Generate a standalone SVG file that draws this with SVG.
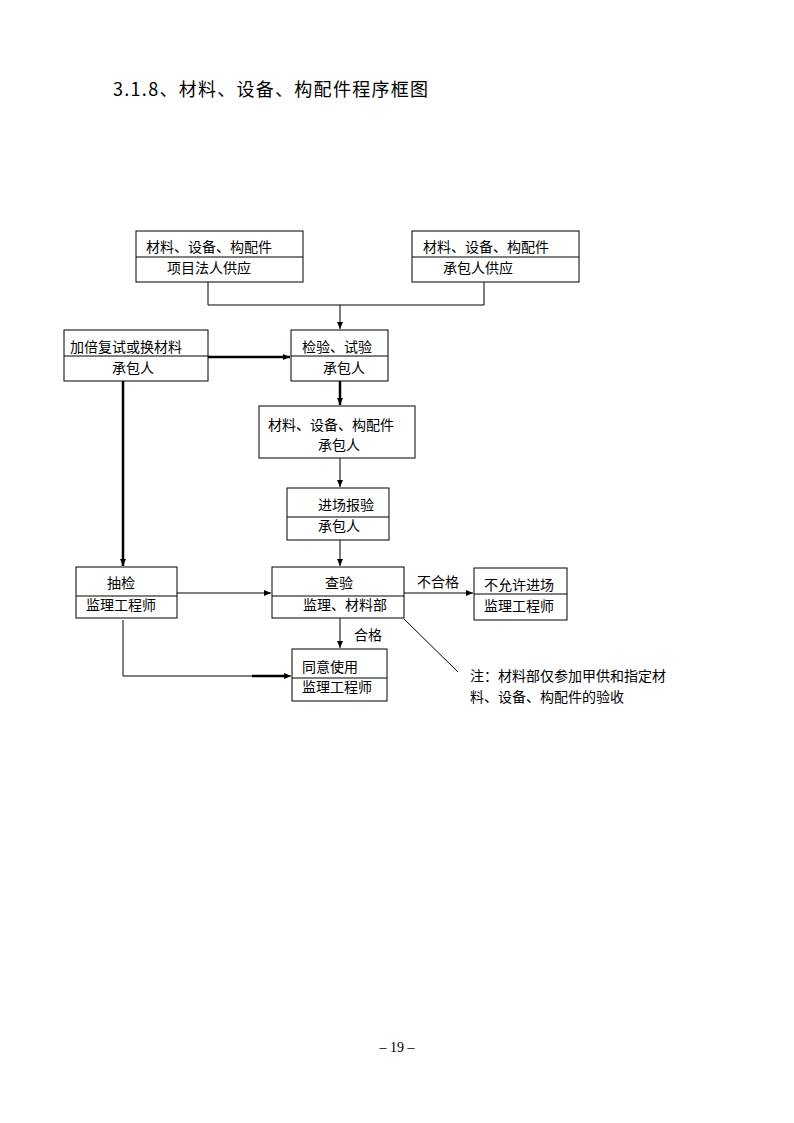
<svg xmlns="http://www.w3.org/2000/svg" width="794" height="1123" viewBox="0 0 794 1123">
<style>
.b{fill:#fff;stroke:#000;stroke-width:1}
.d{stroke:#000;stroke-width:1}
.t{font-family:"Noto Sans CJK SC","Liberation Sans",sans-serif;font-size:14px;fill:#000}
.c{fill:none;stroke:#000;stroke-width:1}
.k{fill:none;stroke:#000;stroke-width:2.5}
</style>
<defs>
<marker id="a" markerWidth="8" markerHeight="8" refX="7" refY="4" orient="auto" markerUnits="userSpaceOnUse">
<path d="M0,1 L7,4 L0,7 Z" fill="#000"/>
</marker>
</defs>
<rect width="794" height="1123" fill="#fff"/>
<text x="113" y="96" font-family="Noto Sans CJK SC,Liberation Sans,sans-serif" font-size="18" textLength="315" lengthAdjust="spacing">3.1.8、材料、设备、构配件程序框图</text>

<g id="n1"><rect class="b" x="136" y="231" width="167" height="51"/><line class="d" x1="136" y1="257" x2="303" y2="257"/><text class="t" x="146" y="252">材料、设备、构配件</text><text class="t" x="167" y="273">项目法人供应</text></g>
<g id="n2"><rect class="b" x="412" y="231" width="167" height="51"/><line class="d" x1="412" y1="257" x2="579" y2="257"/><text class="t" x="423" y="252">材料、设备、构配件</text><text class="t" x="443" y="273">承包人供应</text></g>
<g id="n3"><rect class="b" x="64" y="330" width="144" height="51"/><line class="d" x1="64" y1="356" x2="208" y2="356"/><text class="t" x="70" y="352">加倍复试或换材料</text><text class="t" x="112" y="373">承包人</text></g>
<g id="n4"><rect class="b" x="291" y="330" width="97" height="51"/><line class="d" x1="291" y1="356" x2="388" y2="356"/><text class="t" x="302" y="352">检验、试验</text><text class="t" x="323" y="373">承包人</text></g>
<g id="n5"><rect class="b" x="259" y="406" width="156" height="52"/><text class="t" x="268" y="430">材料、设备、构配件</text><text class="t" x="318" y="450">承包人</text></g>
<g id="n6"><rect class="b" x="287" y="488" width="102" height="52"/><line class="d" x1="287" y1="517" x2="389" y2="517"/><text class="t" x="318" y="510">进场报验</text><text class="t" x="318" y="531">承包人</text></g>
<g id="n7"><rect class="b" x="272" y="567" width="132" height="51"/><line class="d" x1="272" y1="596" x2="404" y2="596"/><text class="t" x="325" y="588">查验</text><text class="t" x="303" y="610">监理、材料部</text></g>
<g id="n8"><rect class="b" x="76" y="567" width="101" height="51"/><line class="d" x1="76" y1="596" x2="177" y2="596"/><text class="t" x="107" y="588">抽检</text><text class="t" x="86" y="610">监理工程师</text></g>
<g id="n9"><rect class="b" x="474" y="568" width="93" height="52"/><line class="d" x1="474" y1="594" x2="567" y2="594"/><text class="t" x="484" y="590">不允许进场</text><text class="t" x="484" y="611">监理工程师</text></g>
<g id="n10"><rect class="b" x="292" y="649" width="95" height="52"/><line class="d" x1="292" y1="678" x2="387" y2="678"/><text class="t" x="302" y="672">同意使用</text><text class="t" x="302" y="692">监理工程师</text></g>

<g id="connectors">
<polyline class="c" points="208,282 208,305 484,305 484,282"/>
<line class="c" x1="340" y1="305" x2="340" y2="329" marker-end="url(#a)"/>
<line class="k" x1="208" y1="357" x2="290" y2="357" stroke-width="2.2" marker-end="url(#a)"/>
<line class="k" x1="340" y1="381" x2="340" y2="405" stroke-width="2" marker-end="url(#a)"/>
<line class="c" x1="340" y1="458" x2="340" y2="487" marker-end="url(#a)"/>
<line class="c" x1="340" y1="540" x2="340" y2="566" marker-end="url(#a)"/>
<line class="k" x1="123" y1="381" x2="123" y2="566" stroke-width="2" marker-end="url(#a)"/>
<line class="c" x1="177" y1="593" x2="271" y2="593" marker-end="url(#a)"/>
<line class="c" x1="404" y1="593" x2="473" y2="593" marker-end="url(#a)"/>
<line class="c" x1="340" y1="618" x2="340" y2="648" marker-end="url(#a)"/>
<polyline class="c" points="123,620 123,676 291,676" marker-end="url(#a)"/>
<line class="k" x1="252" y1="676" x2="288" y2="676" stroke-width="2"/>
<line class="c" x1="404" y1="619" x2="458" y2="672" stroke-width="0.8"/>
<text class="t" x="417" y="587">不合格</text>
<text class="t" x="354" y="640">合格</text>
</g>
<text class="t" x="470" y="681">注：材料部仅参加甲供和指定材</text>
<text class="t" x="470" y="702">料、设备、构配件的验收</text>
<text x="397" y="1052" text-anchor="middle" font-family="Liberation Serif,serif" font-size="14">– 19 –</text>
</svg>
